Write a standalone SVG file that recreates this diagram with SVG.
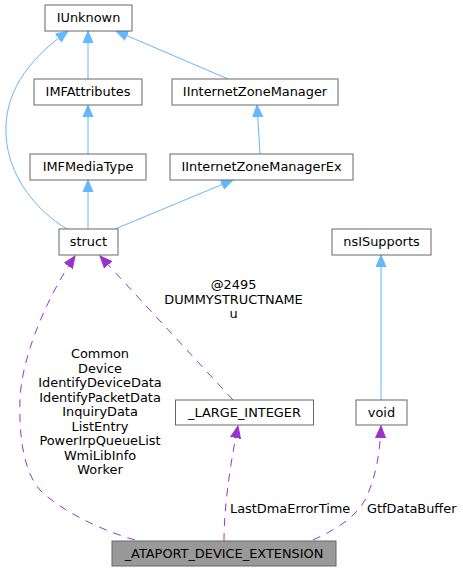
<svg xmlns="http://www.w3.org/2000/svg" width="463" height="572" viewBox="0 0 463 572">
<style>
  .box { fill: #ffffff; stroke: #666666; stroke-width: 1; }
  .main { fill: #999999; stroke: #666666; stroke-width: 1; }
  text { font-family: "DejaVu Sans", "Liberation Sans", sans-serif; font-size: 12.9px; fill: #000000; }
  .c { text-anchor: middle; }
  .inh { fill: none; stroke: #63b8ff; stroke-width: 1; marker-end: url(#ab); }
  .use { fill: none; stroke: #9a32cd; stroke-width: 1; stroke-dasharray: 8,7; marker-end: url(#ap); }
</style>
<defs>
  <marker id="ab" markerUnits="userSpaceOnUse" markerWidth="13" markerHeight="12" viewBox="0 -6 13 12" refX="12" refY="0" orient="auto">
    <path d="M0,-5 L12,0 L0,5 z" fill="#63b8ff" stroke="#63b8ff"/>
  </marker>
  <marker id="ap" markerUnits="userSpaceOnUse" markerWidth="13" markerHeight="12" viewBox="0 -6 13 12" refX="12" refY="0" orient="auto">
    <path d="M0,-5 L12,0 L0,5 z" fill="#9a32cd" stroke="#9a32cd"/>
  </marker>
</defs>
<rect width="463" height="572" fill="#ffffff"/>
<g id="edges">
  <path class="inh" d="M88,79 L88,31"/>
  <path class="inh" d="M228,79 L116,31"/>
  <path class="inh" d="M88,154 L88,105"/>
  <path class="inh" d="M260,154 L257,105"/>
  <path class="inh" d="M88,229 L88,180"/>
  <path class="inh" d="M115,229 L233,180"/>
  <path class="inh" d="M67,229 C35,210 8,175 6,135 C4,95 25,62 68,31"/>
  <path class="inh" d="M381,400 L381,255"/>
  <path class="use" d="M135,540 C100,530 60,510 40,490 C22,470 19,430 20,400 C21,360 45,300 75,256"/>
  <path class="use" d="M233,400 L100,256"/>
  <path class="use" d="M224,541 C224,510 229,470 238,426"/>
  <path class="use" d="M313,540 C335,530 355,518 365,500 C375,480 380,455 381,426"/>
  <text class="c" x="100" y="358">Common</text>
  <text class="c" x="100" y="372.5">Device</text>
  <text class="c" x="100" y="387">IdentifyDeviceData</text>
  <text class="c" x="100" y="401.5">IdentifyPacketData</text>
  <text class="c" x="100" y="416">InquiryData</text>
  <text class="c" x="100" y="430.5">ListEntry</text>
  <text class="c" x="100" y="445">PowerIrpQueueList</text>
  <text class="c" x="100" y="459.5">WmiLibInfo</text>
  <text class="c" x="100" y="474">Worker</text>
  <text class="c" x="233.5" y="289">@2495</text>
  <text class="c" x="233.5" y="303.5">DUMMYSTRUCTNAME</text>
  <text class="c" x="233.5" y="318">u</text>
  <text x="230" y="512.5">LastDmaErrorTime</text>
  <text x="367" y="512.5">GtfDataBuffer</text>
</g>
<g id="IUnknown"><rect class="box" x="45" y="5" width="87" height="26"/><text class="c" x="88.5" y="21.5">IUnknown</text></g>
<g id="IMFAttributes"><rect class="box" x="34" y="79" width="108" height="26"/><text class="c" x="88" y="95.5">IMFAttributes</text></g>
<g id="IInternetZoneManager"><rect class="box" x="172" y="79" width="166" height="26"/><text class="c" x="255" y="95.5">IInternetZoneManager</text></g>
<g id="IMFMediaType"><rect class="box" x="30" y="154" width="116" height="26"/><text class="c" x="88" y="170.5">IMFMediaType</text></g>
<g id="IInternetZoneManagerEx"><rect class="box" x="170" y="154" width="183" height="26"/><text class="c" x="261.5" y="170.5">IInternetZoneManagerEx</text></g>
<g id="struct"><rect class="box" x="59" y="229" width="59" height="26"/><text class="c" x="88.5" y="245.5">struct</text></g>
<g id="nsISupports"><rect class="box" x="332" y="229" width="99" height="26"/><text class="c" x="381.5" y="245.5">nsISupports</text></g>
<g id="LARGE_INTEGER"><rect class="box" x="175.5" y="400" width="138" height="25"/><text class="c" x="244.5" y="416.5">_LARGE_INTEGER</text></g>
<g id="void"><rect class="box" x="356" y="400" width="51" height="25"/><text class="c" x="381.5" y="416.5">void</text></g>
<g id="ATAPORT_DEVICE_EXTENSION"><rect class="main" x="112" y="541" width="224" height="25"/><text class="c" x="224" y="557.5">_ATAPORT_DEVICE_EXTENSION</text></g>
</svg>
